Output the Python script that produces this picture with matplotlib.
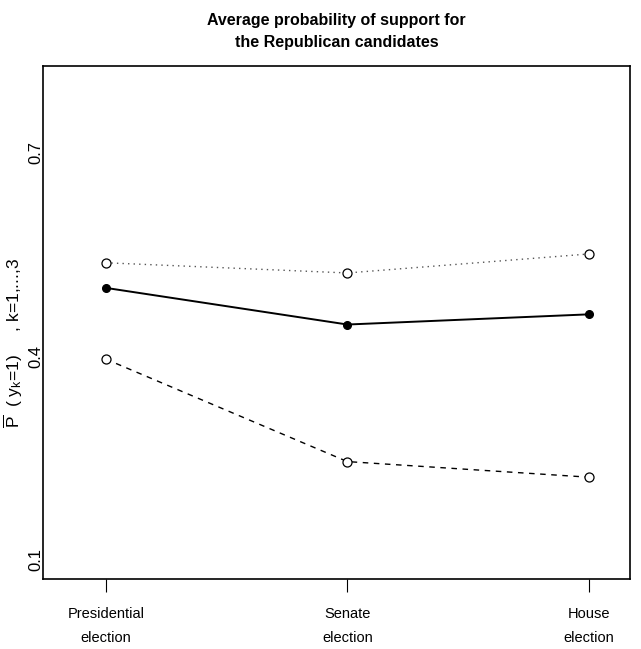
import matplotlib
matplotlib.use("Agg")
import matplotlib.pyplot as plt

categories = ["Presidential\nelection", "Senate\nelection", "House\nelection"]
x_pos = [1, 2, 3]
series_dotted = [0.538, 0.523, 0.551]
series_solid = [0.501, 0.447, 0.462]
series_dashed = [0.396, 0.245, 0.222]
y_ticks = [0.1, 0.4, 0.7]
y_tick_labels = ["0.1", "0.4", "0.7"]

plt.rcParams['font.family'] = ['Liberation Sans', 'DejaVu Sans']
plt.rcParams['mathtext.fontset'] = 'custom'
plt.rcParams['mathtext.rm'] = 'Liberation Sans'
plt.rcParams['mathtext.it'] = 'Liberation Sans'

fig = plt.figure(figsize=(6.41, 6.49), dpi=100)
ax = fig.add_axes([0.0671, 0.1079, 0.9157, 0.7904])

ax.plot(x_pos, series_dotted, linestyle=(0, (1, 3)), color='#555555', linewidth=1.0,
        marker='o', markersize=6.5, markerfacecolor='white', markeredgecolor='black',
        markeredgewidth=0.9)
ax.plot(x_pos, series_solid, linestyle='-', color='black', linewidth=1.4,
        marker='o', markersize=5.5, markerfacecolor='black', markeredgecolor='black')
ax.plot(x_pos, series_dashed, linestyle=(0, (4, 4)), color='black', linewidth=1.0,
        marker='o', markersize=6.5, markerfacecolor='white', markeredgecolor='black',
        markeredgewidth=0.9)

ax.set_xlim(0.74, 3.17)
ax.set_ylim(0.072, 0.828)

ax.set_xticks(x_pos)
ax.set_xticklabels(categories, fontsize=10.5, linespacing=1.95)
ax.tick_params(axis='x', length=9, width=0.8, pad=11, direction='out')

ax.set_yticks(y_ticks)
ax.set_yticklabels(y_tick_labels, rotation=90, va='center', fontsize=12)
ax.tick_params(axis='y', length=0, pad=0)

for s in ax.spines.values():
    s.set_linewidth(1.2)

ax.set_ylabel(r'$\overline{\rm P}$  ( y$_{\rm k}$=1)     , k=1,...,3', fontsize=12.5)
ax.yaxis.set_label_coords(-0.03, 0.46)

ax.set_title("Average probability of support for\nthe Republican candidates",
             fontsize=11.5, fontweight='bold', pad=14, linespacing=1.55)

fig.savefig("out.png", dpi=100)
